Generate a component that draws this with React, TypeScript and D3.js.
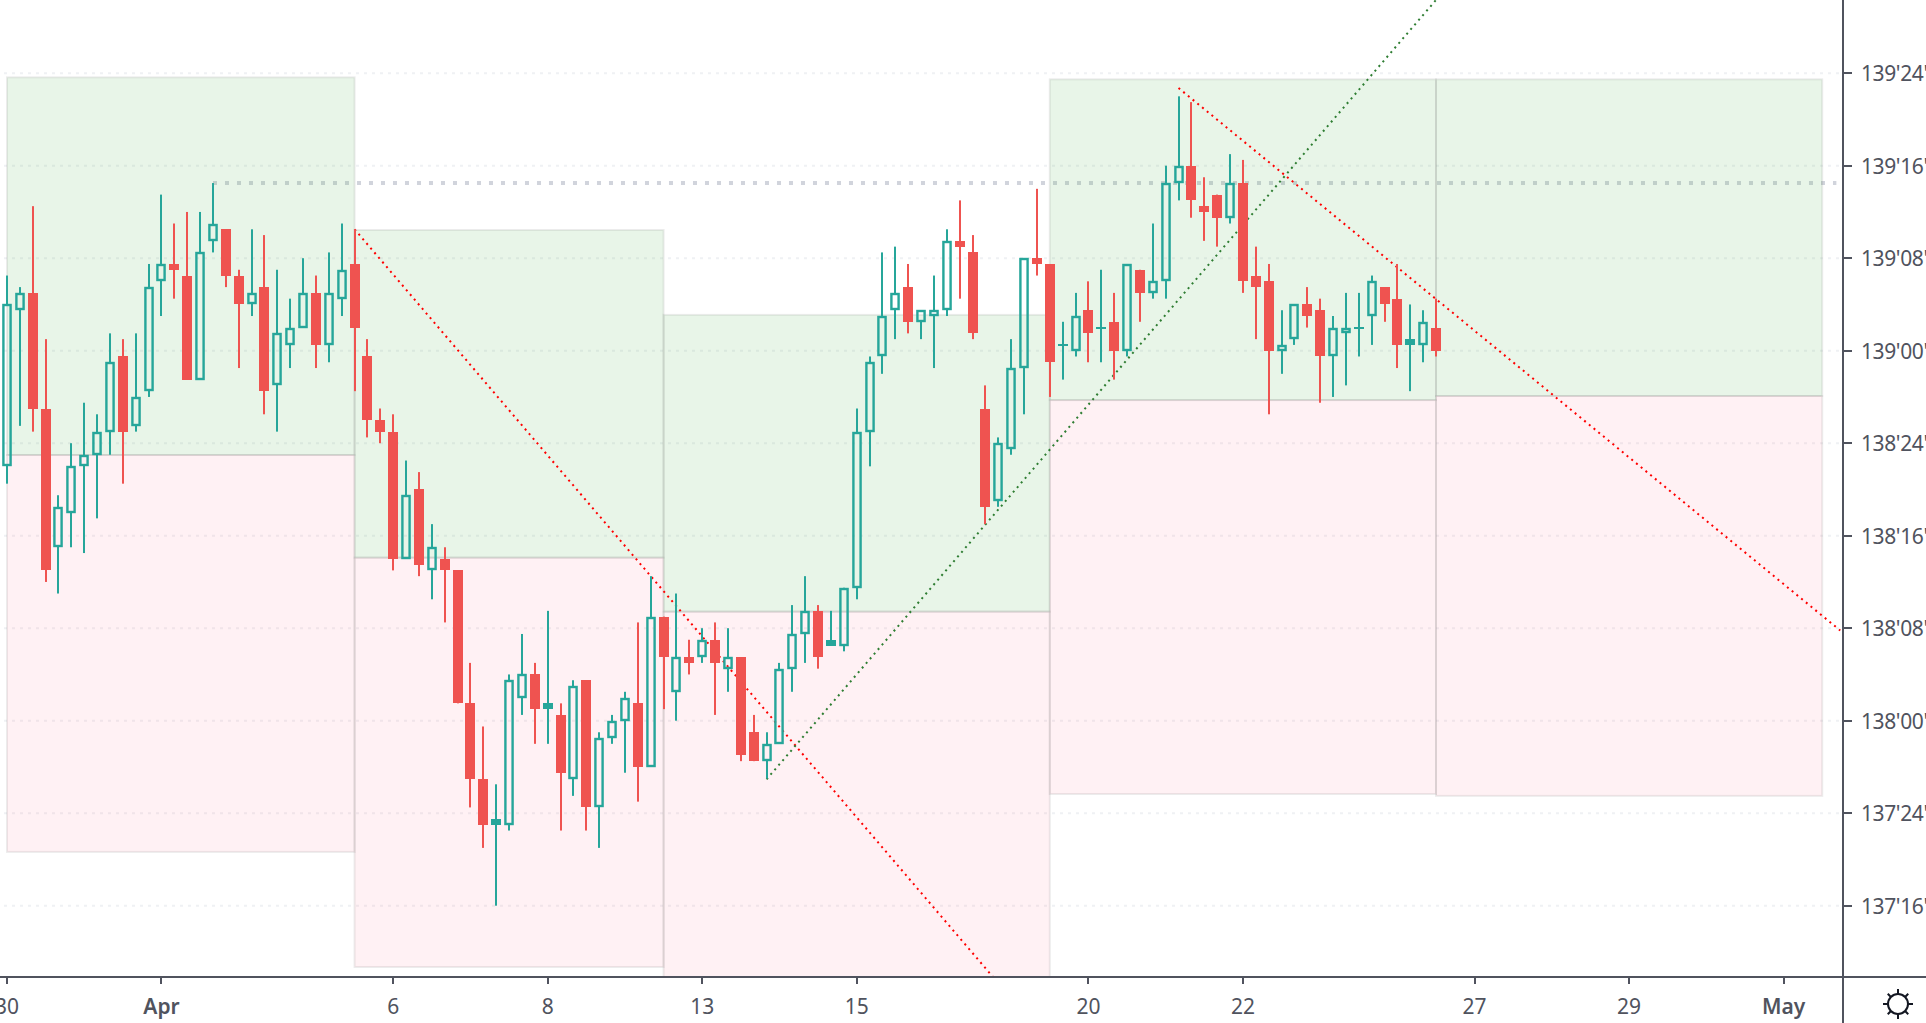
import React from "react";
import * as d3 from "d3";

// All prices are in 32nds above 137'00.
const high = [70.5,69.5,76.5,65,51.5,56,59.5,58.5,65.5,65,
65.5,71.5,77.5,75,76,76,78.5,74.5,71,74.5,
74,71,68.5,72,70.5,72.5,75,74.5,65,59,
58.5,54.5,53.5,49,47,45,37,31.5,26.5,36,
39.5,37,41.5,33.5,35.5,35.5,31,32.5,34.5,40.5,
44.5,41,43,39,40,40.5,40,37.5,32.5,31,
37,42,44.5,42,41.5,43.5,59,63.5,72.5,73,
71.5,67.5,70.5,74.5,77,74,61,56.5,65,72,
78,71.5,66.5,69,70,71,69,71.5,71,75,
80,86,85.5,79,77.5,81,80.5,73,71.5,67.5,
68,69.5,68.5,67,69,69,70.5,69.5,71.5,68,67.5,68.5];

const open = [54,67.5,69,59,47,50,54,55,57,63.5,
57.5,60.5,70,71.5,70.5,61.5,73.5,74.5,70.5,68,
69.5,61,64.5,66,69,64.5,68.5,71.5,63.5,58,
57,46,52,45,46,45,33.5,27,23,23,
34,36,33,32.5,27,35.5,24.5,30.5,32,33.5,
28,41,34.5,37.5,37.5,39,36.5,37.5,31,28.5,
30,36.5,39.5,41.5,38.5,38.5,43.5,57,63.5,67.5,
69.5,66.5,67,67.5,73.5,72.5,59,51,55.5,62.5,
72,71.5,64.5,64,67.5,66,66.5,64,71,69,
70,78.5,80,76.5,77.5,75.5,78.5,70.5,70,64,
65,68,67.5,63.5,65.5,66,67,69.5,68.5,64.5,64.5,66];

const close = [68,69,59,45,50.5,54,55,57,63,57,
60,69.5,71.5,71,61.5,72.5,75,70.5,68,69,
60.5,65.5,66,69,64.5,69,71,66,58,57,
46,51.5,45.5,47,45,33.5,27,23,23.5,35.5,
36,33,33.5,27.5,35,24.5,30.5,32,34,28,
41,37.5,37.5,37,39,37,37.5,29,28.5,30,
36.5,39.5,41.5,37.5,39,43.5,57,63,67,69,
66.5,67.5,67.5,73.5,73,65.5,50.5,56,62.5,72,
71.5,63,64.5,67,65.5,66,64,71.5,69,70,
78.5,80,77,76,75.5,78.5,70,69.5,64,64.5,
68,67,63.5,66,66,66,70,68,64.5,65,66.5,64];

const low = [52.5,57.5,57,44,43,47,46.5,49.5,55,52.5,
57,60,67,68.5,61.5,61.5,72.5,69.5,62.5,67,
58.5,57,62.5,66,62.5,63,67,60.5,56.5,56,
45,46,44.5,42.5,40.5,33.5,24.5,21,16,22.5,
32.5,30,30,22.5,25.5,22.5,21,30,27.5,25,
28,33,32,36,37,32.5,34.5,28.5,28.5,27,
30,34.5,37,36.5,38.5,38,42.5,54,62,65,
65.5,65,62.5,67,68.5,65,49,50.5,55,58.5,
70.5,60,61.5,63.5,63,63,61.5,63.5,66.5,68.5,
68.5,77,75.5,73.5,73,75,69,65,58.5,62,
64.5,66,59.5,60,61,63.5,64.5,66.5,62.5,60.5,63,63.5];

const solidUpBars = [38, 42, 64, 109];

const priceTicks = [16, 24, 32, 40, 48, 56, 64, 72, 80, 88];
const dateLabels = ["30", "Apr", "6", "8", "13", "15", "20", "22", "27", "29", "May"];
const dateIndex = [0, 12, 30, 42, 54, 66, 84, 96, 114, 126, 138];
const monthLabels = ["Apr", "May"];

const zoneStart = [0, 27, 51, 81, 111];
const zoneEnd = [27, 51, 81, 111, 141];
const zoneTop = [87.64, 74.44, 67.1, 87.47, 87.47];
const zoneMid = [54.98, 46.1, 41.43, 59.73, 60.08];
const zoneBottom = [20.65, 10.7, 5, 25.66, 25.5];

const redLineA = [[27, 74.5], [76.6, 9.82]];
const redLineB = [[91, 86.72], [142.4, 39.8]];
const greenLine = [[59, 26.93], [111, 94.33]];
const priceLineValue = 78.5;
const priceLineSpan = [16, 142.1];

const UP = "#26a69a";
const DOWN = "#ef5350";
const AXIS = "#50535e";
const FONT = "'Noto Sans', sans-serif";

const xs = d3.scaleLinear().domain([0, 111]).range([7, 1436]);
const ys = d3.scaleLinear().domain([16, 88]).range([905.7, 73.2]);
const line = d3.line<number[]>().x((d) => xs(d[0])).y((d) => ys(d[1]));

const fmt = (v: number) => {
  const whole = 137 + Math.floor(v / 32);
  return `${whole}'${d3.format("02d")(v % 32)}'0`;
};

const Candle = ({ i }: { i: number }) => {
  const x = Math.round(xs(i));
  const up = close[i] >= open[i];
  const color = up ? UP : DOWN;
  const top = Math.round(ys(Math.max(open[i], close[i])));
  const bot = Math.round(ys(Math.min(open[i], close[i])));
  const hi = ys(high[i]);
  const lo = ys(low[i]);
  const h = bot - top;
  const wick = (a: number, b: number) =>
    b > a ? <rect x={x - 1} y={a} width={2} height={b - a} fill={color} /> : null;
  if (!up || solidUpBars.includes(i)) {
    return (
      <g>
        {wick(hi, lo)}
        <rect x={x - 5} y={top} width={10} height={h} fill={color} />
      </g>
    );
  }
  if (h === 0) {
    return (
      <g>
        {wick(hi, lo)}
        <rect x={x - 5} y={top - 1} width={10} height={2} fill={color} />
      </g>
    );
  }
  return (
    <g>
      {wick(hi, top)}
      {wick(bot, lo)}
      <rect x={x - 3.6} y={top + 1} width={7.2} height={h - 2} fill="none" stroke={color} strokeWidth={2.4} />
    </g>
  );
};

const Sun = () => {
  const cx = 1898;
  const cy = 1004;
  return (
    <g stroke="#131722" strokeWidth={2} fill="none">
      <circle cx={cx} cy={cy} r={10} />
      {d3.range(8).map((k) => {
        const a = (k * Math.PI) / 4;
        const r2 = k % 2 ? 14.5 : 15;
        return (
          <line
            key={k}
            x1={cx + 10 * Math.cos(a)}
            y1={cy + 10 * Math.sin(a)}
            x2={cx + r2 * Math.cos(a)}
            y2={cy + r2 * Math.sin(a)}
          />
        );
      })}
    </g>
  );
};

export default function App() {
  return (
    <svg
      width={1926}
      height={1023}
      style={{ position: "fixed", left: 0, top: 0, display: "block", background: "#fff" }}
    >
      <defs>
        <clipPath id="plot">
          <rect x={0} y={0} width={1842} height={976} />
        </clipPath>
      </defs>
      <g clipPath="url(#plot)">
        {priceTicks.map((t) => (
          <line
            key={t}
            x1={4}
            x2={1842}
            y1={ys(t)}
            y2={ys(t)}
            stroke="#eff1f4"
            strokeWidth={2}
            strokeDasharray="3 5"
          />
        ))}
        <line
          x1={xs(priceLineSpan[0])}
          x2={xs(priceLineSpan[1])}
          y1={ys(priceLineValue)}
          y2={ys(priceLineValue)}
          stroke="#d1d4dc"
          strokeWidth={4}
          strokeDasharray="4 8"
        />
        {zoneStart.map((s, i) => {
          const x0 = xs(s);
          const x1 = xs(zoneEnd[i]);
          return (
            <g key={i}>
              <rect
                x={x0}
                y={ys(zoneTop[i])}
                width={x1 - x0}
                height={ys(zoneMid[i]) - ys(zoneTop[i])}
                fill="rgba(76,175,80,0.13)"
                stroke="rgba(110,110,110,0.13)"
                strokeWidth={2}
              />
              <rect
                x={x0}
                y={ys(zoneMid[i])}
                width={x1 - x0}
                height={ys(zoneBottom[i]) - ys(zoneMid[i])}
                fill="rgba(255,82,120,0.08)"
                stroke="rgba(110,110,110,0.13)"
                strokeWidth={2}
              />
            </g>
          );
        })}
        <path d={line(redLineA) as string} fill="none" stroke="#ff0000" strokeWidth={2} strokeDasharray="2 4.1" />
        <path d={line(redLineB) as string} fill="none" stroke="#ff0000" strokeWidth={2} strokeDasharray="2 4.1" />
        <path d={line(greenLine) as string} fill="none" stroke="#2e7d32" strokeWidth={2} strokeDasharray="2 4.1" />
        {high.map((_, i) => (
          <Candle key={i} i={i} />
        ))}
      </g>
      <rect x={0} y={976} width={1926} height={2} fill={AXIS} />
      <rect x={1842} y={0} width={2} height={1023} fill={AXIS} />
      {priceTicks.map((t) => (
        <g key={t}>
          <rect x={1842} y={Math.round(ys(t)) - 1} width={10} height={2} fill={AXIS} />
          <text x={1861} y={ys(t) + 8} fontFamily={FONT} fontSize={21} letterSpacing={-0.4} fill={AXIS}>
            {fmt(t)}
          </text>
        </g>
      ))}
      {dateLabels.map((label, i) => (
        <g key={label}>
          <rect x={Math.round(xs(dateIndex[i])) - 1} y={977} width={2} height={7} fill={AXIS} />
          <text
            x={xs(dateIndex[i])}
            y={1014}
            textAnchor="middle"
            fontFamily={FONT}
            fontSize={21}
            fontWeight={monthLabels.includes(label) ? 600 : 400}
            fill={AXIS}
          >
            {label}
          </text>
        </g>
      ))}
      <Sun />
    </svg>
  );
}
